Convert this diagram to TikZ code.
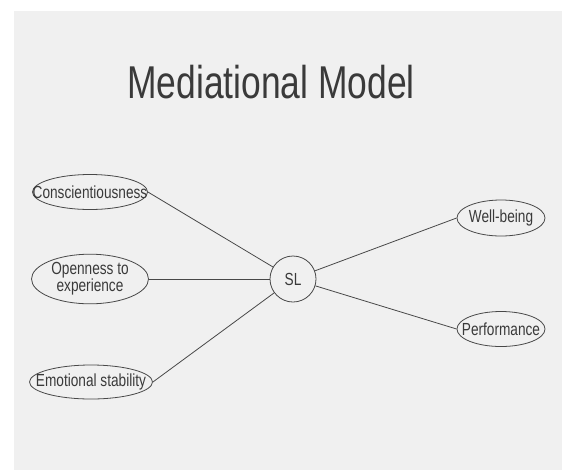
\documentclass[tikz,border=0pt]{standalone}
\usepackage{fontspec}
\setmainfont{Liberation Sans}
\newfontfamily\titlefont[FakeStretch=0.77]{Liberation Sans}
\newfontfamily\bodyfont[FakeStretch=0.78]{Liberation Sans}
\usetikzlibrary{shapes.geometric}
\definecolor{slidebg}{HTML}{F0F0F0}
\definecolor{ink}{HTML}{3A3A3A}
\definecolor{edge}{HTML}{484848}
\newcommand{\ovaltext}[1]{\makebox[0pt]{#1}}
\begin{document}
\begin{tikzpicture}[x=1pt,y=-1pt,
  oval/.style={ellipse,draw=edge,line width=0.8pt,inner sep=0pt,text=ink,
    font=\bodyfont\fontsize{17.5}{18}\selectfont},
  link/.style={draw=edge,line width=0.8pt}]
\useasboundingbox (0,0) rectangle (564,472);
\fill[white] (0,0) rectangle (564,472);
\fill[slidebg] (14,11) rectangle (562,470);
\node[text=ink,font=\titlefont\fontsize{46}{48}\selectfont] (title) at (271,82) {Mediational Model};
\node[oval,minimum width=115pt,minimum height=35pt] (consc) at (90,192) {\ovaltext{Conscientiousness}};
\node[oval,minimum width=117pt,minimum height=48pt] (open) at (90,279) {\ovaltext{\begin{tabular}{@{}c@{}}Openness to\\[-1pt]experience\end{tabular}}};
\node[oval,minimum width=123pt,minimum height=34pt] (emo) at (91,382) {\ovaltext{Emotional stability}};
\node[circle,draw=edge,line width=0.8pt,minimum size=46pt,inner sep=0pt,text=ink,
  font=\bodyfont\fontsize{17.5}{18}\selectfont] (sl) at (293,279) {SL};
\node[oval,minimum width=88pt,minimum height=36pt] (wb) at (501,218) {\ovaltext{Well-being}};
\node[oval,minimum width=88pt,minimum height=35pt] (perf) at (501,329) {\ovaltext{Performance}};
\draw[link] (consc.east) -- (sl);
\draw[link] (open.east) -- (sl);
\draw[link] (emo.east) -- (sl);
\draw[link] (sl) -- (wb.west);
\draw[link] (sl) -- (perf.west);
\end{tikzpicture}
\end{document}
